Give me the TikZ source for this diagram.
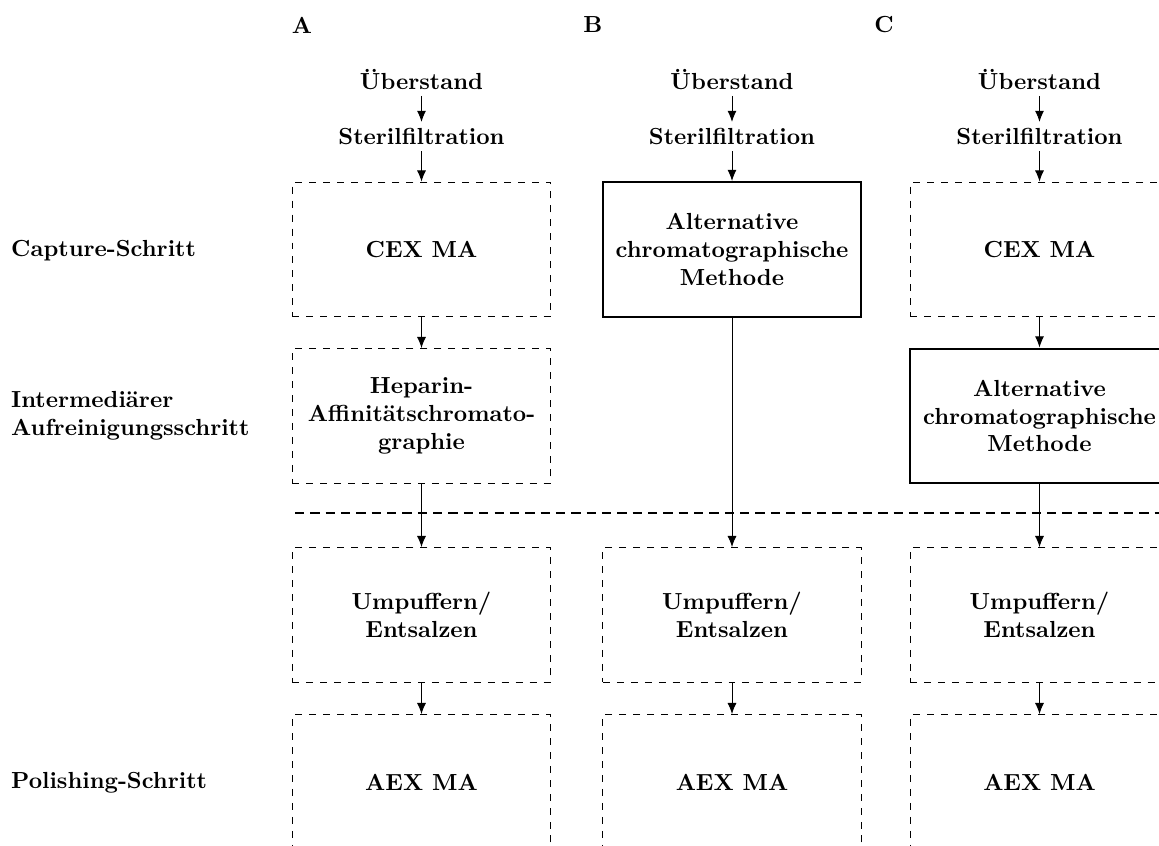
\documentclass[tikz,border=0pt]{standalone}
\usepackage{fontspec}
\usepackage{tikz}
\usetikzlibrary{arrows.meta,positioning}

\begin{document}
\begin{tikzpicture}[x=0.43pt,y=-0.43pt,
    every node/.style={font=\bfseries},
    stepbox/.style={draw,dashed,minimum width=111pt,minimum height=58pt,align=center},
    altbox/.style={draw,line width=0.9pt,minimum width=111pt,minimum height=58pt,align=center},
    src/.style={inner sep=2.5pt},
    rowlbl/.style={anchor=west,align=left},
    flow/.style={-{Latex[length=4.8pt,width=3.9pt]}}]
    \useasboundingbox (0,0) rectangle (1159,846);
    \clip (0,0) rectangle (1159,846);
    % column headers
    \foreach \x/\lbl in {302/A,593/B,884/C}
      \node (hd\lbl) at (\x,25) {\lbl};
    % row labels
    \node[rowlbl] (capt) at (3,251) {Capture-Schritt};
    \node[rowlbl] (inter) at (3,416) {Intermediärer\\Aufreinigungsschritt};
    \node[rowlbl] (polish) at (3,783) {Polishing-Schritt};
    % common steps per column
    \foreach \x/\c in {421.5/A,732/B,1039.5/C}{
      \node[src] (ueb\c) at (\x,79.5) {Überstand};
      \node[src] (ster\c) at (\x,136.5) {Sterilfiltration};
      \node[stepbox] (puf\c) at (\x,615) {Umpuffern/\\Entsalzen};
      \node[stepbox] (aex\c) at (\x,782) {AEX MA};
      \draw[flow] (ueb\c) -- (ster\c);
      \draw[flow] (puf\c) -- (aex\c);
    }
    % A
    \node[stepbox] (cexA) at (421.5,249.5) {CEX MA};
    \node[stepbox] (hepA) at (421.5,416) {Heparin-\\Affinitätschromato-\\graphie};
    % B
    \node[altbox] (altB) at (732,249.5) {Alternative\\chromatographische\\Methode};
    % C
    \node[stepbox] (cexC) at (1039.5,249.5) {CEX MA};
    \node[altbox] (altC) at (1039.5,416) {Alternative\\chromatographische\\Methode};
    % separator
    \coordinate (sepL) at (295,513);
    \coordinate (sepR) at (1170,513);
    \draw[thick,dash pattern=on 4pt off 2.6pt] (sepL) -- (sepR);
    \draw[flow] (sterA) -- (cexA);
    \draw[flow] (cexA) -- (hepA);
    \draw[flow] (hepA) -- (pufA);
    \draw[flow] (sterB) -- (altB);
    \draw[flow] (altB) -- (pufB);
    \draw[flow] (sterC) -- (cexC);
    \draw[flow] (cexC) -- (altC);
    \draw[flow] (altC) -- (pufC);
  \end{tikzpicture}
\end{document}
